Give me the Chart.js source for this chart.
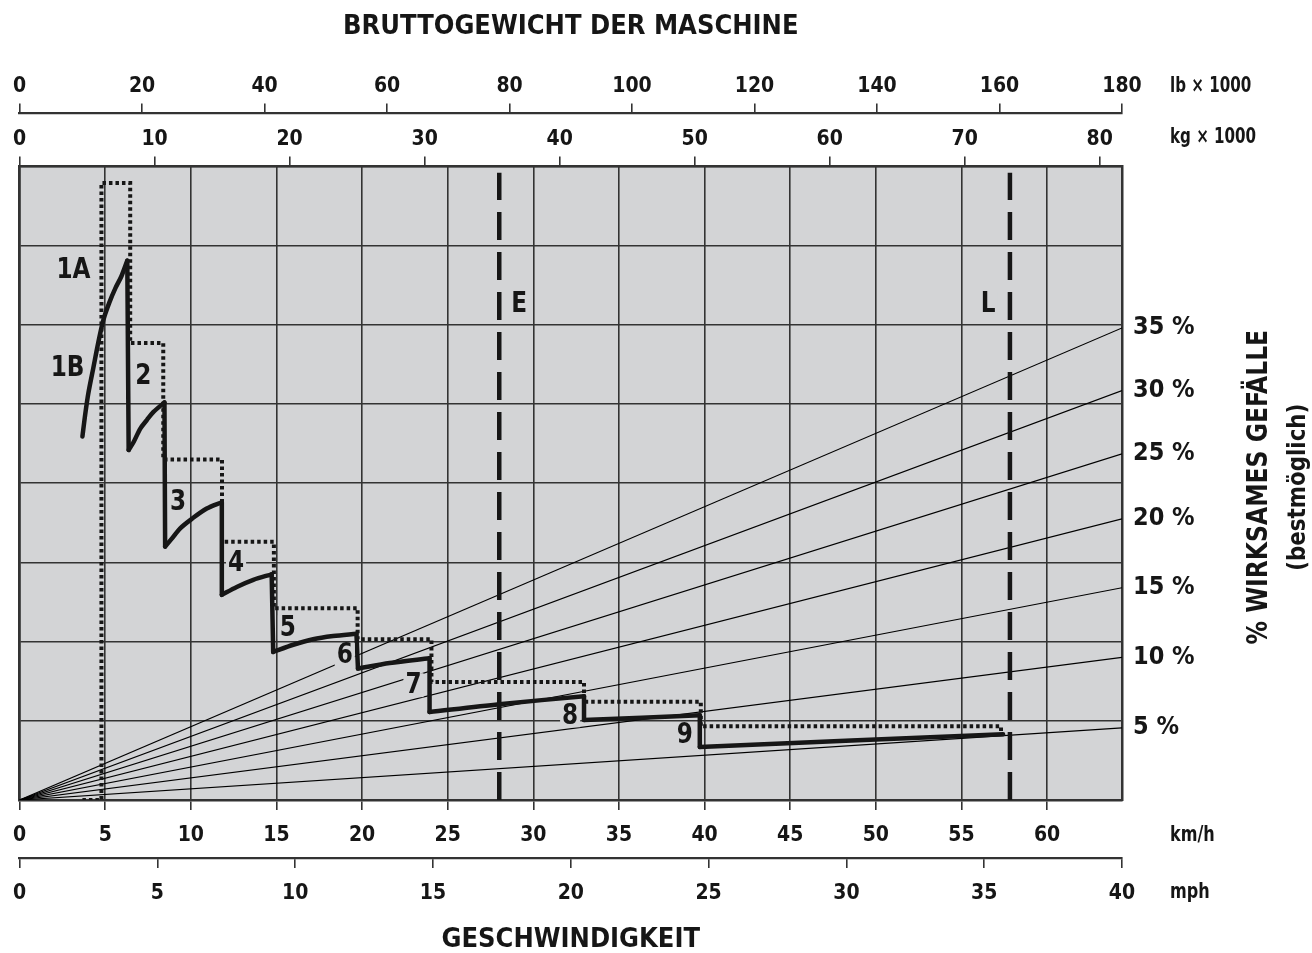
<!DOCTYPE html>
<html>
<head>
<meta charset="utf-8">
<title>Steigfähigkeit</title>
<script src="https://cdn.jsdelivr.net/npm/chart.js@4.4.1/dist/chart.umd.min.js"></script>
<style>
  html, body { margin: 0; padding: 0; background: #fff; }
  canvas { display: block; }
</style>
</head>
<body>
<canvas id="grade-chart" width="1312" height="953"></canvas>
<script>
// x = Geschwindigkeit in km/h, y = Zugkraft in Kästchen (0-8, Achse ohne Beschriftung)
const KMH_MAX = 40 * 1.609344;
const KG_MAX = 180 / 2.20462;
const PULL_MAX = 8;

// Zugkraftkurven je Gang (1A/1B ... 9)
const gearKmh = [
    [3.67, 3.84, 4.02, 4.31, 4.60, 4.89, 5.24, 5.59, 5.94, 6.29],
    [6.37, 6.66, 7.05, 7.44, 7.82, 8.46],
    [8.50, 8.89, 9.38, 10.06, 10.93, 11.81],
    [11.81, 12.68, 13.65, 14.72],
    [14.81, 15.98, 17.14, 18.31, 19.67],
    [19.76, 21.61, 23.94],
    [23.94, 28.01, 32.96],
    [32.96, 39.72],
    [39.72, 57.43]
];
const gearPull = [
    [4.59, 4.88, 5.14, 5.46, 5.78, 6.06, 6.28, 6.46, 6.61, 6.81],
    [4.42, 4.52, 4.69, 4.80, 4.90, 5.02],
    [3.20, 3.30, 3.43, 3.55, 3.68, 3.76],
    [2.59, 2.69, 2.78, 2.85],
    [1.87, 1.96, 2.03, 2.07, 2.10],
    [1.66, 1.73, 1.79],
    [1.11, 1.21, 1.31],
    [1.01, 1.07],
    [0.67, 0.83]
];

// gepunktete Treppe (Höchstwerte)
const maxKmh = [3.67, 4.78, 6.46, 8.39, 11.82, 14.85, 19.74, 24.05, 32.96, 39.78, 57.31];
const maxPull = [0, 7.79, 5.77, 4.30, 3.26, 2.42, 2.03, 1.49, 1.24, 0.93, 0.83];

// Gefällelinien, Wert am rechten Rand
const gradeLabels = ['35 %', '30 %', '25 %', '20 %', '15 %', '10 %', '5 %'];
const gradeEndPull = [5.96, 5.17, 4.37, 3.55, 2.68, 1.80, 0.91];

// Geschwindigkeitsgrenzen E und L
const limitNames = ['E', 'L'];
const limitKmh = [28.01, 57.83];
const limitTop = 7.92;

// Beschriftungen im Diagramm
const noteText = ['1A', '1B', '2', '3', '4', '5', '6', '7', '8', '9', 'E', 'L'];
const noteKmh = [3.15, 2.80, 7.22, 9.26, 12.64, 15.67, 18.99, 23.0, 32.15, 38.85, 29.18, 56.55];
const notePull = [6.69, 5.46, 5.36, 3.76, 2.99, 2.18, 1.83, 1.45, 1.07, 0.82, 6.27, 6.27];

const FONT = "'Liberation Sans Narrow', 'Arial Narrow', 'DejaVu Sans Condensed', sans-serif";
const INK = '#161616';
const GRID = '#333333';
const PLOT_BG = '#d3d4d6';

Chart.defaults.font.family = FONT;
Chart.defaults.color = INK;

const tickFont = { family: FONT, size: 21, weight: 'bold' };

var datasets = [];

gearKmh.forEach(function(xs, g) {
    datasets.push({
        data: xs.map((x, i) => ({ x: x, y: gearPull[g][i] })),
        borderColor: INK,
        borderWidth: 4.5,
        borderCapStyle: 'round',
        tension: 0.3,
        order: 1
    });
    if (g < gearKmh.length - 1) {
        datasets.push({
            data: [
                { x: xs[xs.length - 1], y: gearPull[g][xs.length - 1] },
                { x: gearKmh[g + 1][0], y: gearPull[g + 1][0] }
            ],
            borderColor: INK,
            borderWidth: 4.5,
            borderCapStyle: 'round',
            order: 1
        });
    }
});

datasets.push({
    data: maxKmh.map((x, i) => ({ x: x, y: maxPull[i] })),
    borderColor: INK,
    borderWidth: 4,
    borderDash: [3.5, 3],
    stepped: 'before',
    order: 3
});

limitKmh.forEach(function(x) {
    datasets.push({
        data: [{ x: x, y: 0 }, { x: x, y: limitTop }],
        borderColor: INK,
        borderWidth: 4.5,
        borderDash: [28, 12],
        order: 4
    });
});

gradeEndPull.forEach(function(v) {
    datasets.push({
        data: [{ x: 0, y: 0 }, { x: KMH_MAX, y: v }],
        borderColor: '#000',
        borderWidth: 1.2,
        order: 5
    });
});

// schmale Schrift nachahmen: Text waagrecht stauchen
function narrowText(ctx, text, x, y, sx) {
    ctx.save();
    ctx.translate(x, y);
    ctx.scale(sx, 1);
    ctx.fillText(text, 0, 0);
    ctx.restore();
}

const paperPlugin = {
    id: 'paper',
    beforeDraw(chart) {
        const ctx = chart.ctx, a = chart.chartArea;
        ctx.save();
        ctx.fillStyle = '#fff';
        ctx.fillRect(0, 0, chart.width, chart.height);
        ctx.fillStyle = PLOT_BG;
        ctx.fillRect(a.left, a.top, a.right - a.left, a.bottom - a.top);
        ctx.restore();
    }
};

const textPlugin = {
    id: 'texts',
    afterDatasetsDraw(chart) {
        const ctx = chart.ctx, sx = chart.scales.x, sy = chart.scales.y;
        ctx.save();
        ctx.font = 'bold 28px ' + FONT;
        ctx.textAlign = 'center';
        ctx.textBaseline = 'middle';
        noteText.forEach(function(t, i) {
            const px = sx.getPixelForValue(noteKmh[i]);
            const py = sy.getPixelForValue(notePull[i]);
            const w = ctx.measureText(t).width * 0.92;
            ctx.fillStyle = PLOT_BG;
            ctx.fillRect(px - w / 2 - 2, py - 12, w + 4, 24);
            ctx.fillStyle = INK;
            narrowText(ctx, t, px, py + 1, 0.92);
        });
        ctx.restore();
    },
    afterDraw(chart) {
        const ctx = chart.ctx, a = chart.chartArea, s = chart.scales;
        ctx.save();
        ctx.fillStyle = INK;
        ctx.font = 'bold 21px ' + FONT;
        ctx.textAlign = 'left';
        ctx.textBaseline = 'middle';
        const ux = a.right + 48;
        narrowText(ctx, 'lb \u00d7 1000', ux, s.xLb.bottom - 27, 0.8);
        narrowText(ctx, 'kg \u00d7 1000', ux, s.xKg.bottom - 29, 0.8);
        narrowText(ctx, 'km/h', ux, s.x.top + 36, 0.85);
        narrowText(ctx, 'mph', ux, s.xMph.top + 35, 0.85);

        // Achsentitel rechts, von unten nach oben gelesen
        const cy = (a.top + a.bottom) / 2 + 4;
        ctx.translate(a.right + 137, cy);
        ctx.rotate(-Math.PI / 2);
        ctx.textAlign = 'center';
        ctx.font = 'bold 29px ' + FONT;
        narrowText(ctx, '% WIRKSAMES GEF\u00c4LLE', 0, 0, 0.9);
        ctx.font = 'bold 25px ' + FONT;
        narrowText(ctx, '(bestm\u00f6glich)', 0, 39, 0.95);
        ctx.restore();
    }
};

function topBottomAxis(pos, weight, max, step, height) {
    return {
        type: 'linear',
        axis: 'x',
        position: pos,
        weight: weight,
        min: 0,
        max: max,
        ticks: {
            stepSize: step,
            includeBounds: false,
            autoSkip: false,
            maxRotation: 0,
            padding: pos === 'top' ? 4 : 13,
            font: tickFont,
            color: INK
        },
        grid: { drawOnChartArea: false, color: GRID, lineWidth: 1.6, tickLength: 10 },
        border: { display: true, color: GRID, width: 2.2 },
        afterFit: function(sc) { sc.height = height; }
    };
}

var kmhAxis = topBottomAxis('bottom', 1, KMH_MAX, 5, 58);
kmhAxis.grid.drawOnChartArea = true;
kmhAxis.border.width = 2.5;

new Chart(document.getElementById('grade-chart').getContext('2d'), {
    type: 'scatter',
    data: { datasets: datasets },
    plugins: [paperPlugin, textPlugin],
    options: {
        responsive: false,
        animation: false,
        devicePixelRatio: 1,
        layout: { padding: { left: 19, right: 0, top: 0, bottom: 0 } },
        elements: { point: { radius: 0, hoverRadius: 0 } },
        datasets: { scatter: { showLine: true } },
        plugins: {
            legend: { display: false },
            tooltip: { enabled: false },
            title: {
                display: true,
                text: 'BRUTTOGEWICHT DER MASCHINE',
                fullSize: false,
                color: INK,
                font: { family: FONT, size: 27, weight: 'bold', lineHeight: 1.2 },
                padding: { top: 11, bottom: 30 }
            },
            subtitle: {
                display: true,
                position: 'bottom',
                text: 'GESCHWINDIGKEIT',
                fullSize: false,
                color: INK,
                font: { family: FONT, size: 27, weight: 'bold', lineHeight: 1.0 },
                padding: { top: 22, bottom: 0 }
            }
        },
        scales: {
            x: kmhAxis,
            xMph: topBottomAxis('bottom', 2, 40, 5, 46),
            xKg: topBottomAxis('top', 1, KG_MAX, 10, 53),
            xLb: topBottomAxis('top', 2, 180, 20, 40),
            y: {
                type: 'linear',
                min: 0,
                max: PULL_MAX,
                ticks: { display: false, stepSize: 1 },
                grid: { color: GRID, lineWidth: 1.6, drawTicks: false },
                border: { display: true, color: GRID, width: 2.5 },
                afterFit: function(sc) { sc.width = 0; }
            },
            yGrade: {
                type: 'linear',
                axis: 'y',
                position: 'right',
                min: 0,
                max: PULL_MAX,
                afterBuildTicks: function(sc) {
                    sc.ticks = gradeEndPull.map(v => ({ value: v }));
                },
                ticks: {
                    autoSkip: false,
                    padding: 11,
                    font: { family: FONT, size: 25, weight: 'bold' },
                    color: INK,
                    callback: (v, i) => gradeLabels[i]
                },
                grid: { display: false, drawTicks: false },
                border: { display: true, color: GRID, width: 2.5 },
                afterFit: function(sc) { sc.width = 190; }
            }
        }
    }
});
</script>
</body>
</html>
